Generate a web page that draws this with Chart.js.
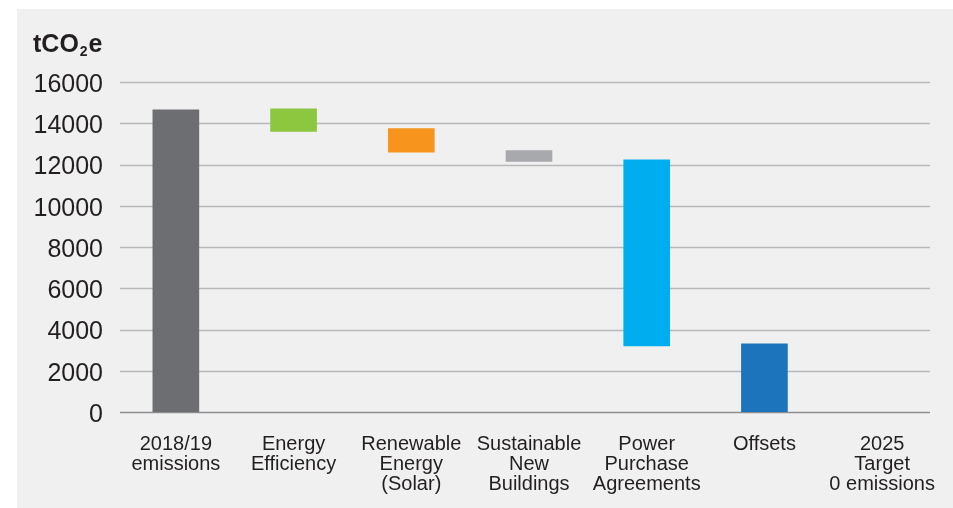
<!DOCTYPE html>
<html>
<head>
<meta charset="utf-8">
<script src="https://cdn.jsdelivr.net/npm/chart.js@4/dist/chart.umd.min.js"></script>
<style>
  html, body { margin: 0; padding: 0; background: #ffffff; }
  #wrap { position: relative; width: 953px; height: 508px; }
  #panel { position: absolute; left: 17px; top: 9px; width: 936px; height: 499px; background: #f0f0f0; }
  #chart { position: absolute; left: 0; top: 0; }
</style>
</head>
<body>
<div id="wrap">
  <div id="panel"></div>
  <canvas id="chart" width="953" height="508"></canvas>
</div>
<script>
// categories (multi-line labels)
const categories = [
  ['2018/19', 'emissions'],
  ['Energy', 'Efficiency'],
  ['Renewable', 'Energy', '(Solar)'],
  ['Sustainable', 'New', 'Buildings'],
  ['Power', 'Purchase', 'Agreements'],
  ['Offsets'],
  ['2025', 'Target', '0 emissions']
];

// floating bar bounds, tCO2e
const barStarts = [0, 13600, 12600, 12150, 3200, 0, null];
const barEnds = [14650, 14700, 13740, 12670, 12230, 3300, null];
const barColors = ['#6d6e71', '#8dc63f', '#f7941d', '#a7a9ac', '#00aeef', '#1c75bc', '#1c75bc'];

const yMin = 0;
const yMax = 16000;
const yStep = 2000;

const textColor = '#231f20';

// horizontal grid lines, a bit shorter than the category band
const gridPlugin = {
  id: 'gridLines',
  beforeDatasetsDraw(chart) {
    const { ctx, chartArea, scales } = chart;
    const y = scales.y;
    ctx.save();
    y.ticks.forEach(t => {
      const py = Math.round(y.getPixelForValue(t.value)) + 0.5;
      ctx.beginPath();
      ctx.strokeStyle = t.value === 0 ? '#8e8e90' : '#b8b8bb';
      ctx.lineWidth = 1.5;
      ctx.moveTo(chartArea.left + 3, py);
      ctx.lineTo(chartArea.right - 11, py);
      ctx.stroke();
    });
    ctx.restore();
  }
};

// axis title with subscript
const unitPlugin = {
  id: 'unitTitle',
  afterDraw(chart) {
    const ctx = chart.ctx;
    const big = 'bold 25px "Liberation Sans", Arial, sans-serif';
    const small = 'bold 14px "Liberation Sans", Arial, sans-serif';
    let x = 33;
    const base = 52;
    ctx.save();
    ctx.fillStyle = textColor;
    ctx.textBaseline = 'alphabetic';
    ctx.textAlign = 'left';
    ctx.font = big;
    ctx.fillText('tCO', x, base);
    x += ctx.measureText('tCO').width + 1;
    ctx.font = small;
    ctx.fillText('2', x, base + 4);
    x += ctx.measureText('2').width + 1;
    ctx.font = big;
    ctx.fillText('e', x, base);
    ctx.restore();
  }
};

const data = {
  labels: categories,
  datasets: [{
    data: barStarts.map((s, i) => (s === null ? null : [s, barEnds[i]])),
    backgroundColor: barColors,
    borderWidth: 0,
    barThickness: 46
  }]
};

new Chart(document.getElementById('chart'), {
  type: 'bar',
  data,
  options: {
    responsive: false,
    animation: false,
    devicePixelRatio: 1,
    layout: { padding: { left: 0, top: 82, right: 12, bottom: 0 } },
    plugins: {
      legend: { display: false },
      tooltip: { enabled: false }
    },
    scales: {
      x: {
        grid: { display: false, drawTicks: false },
        border: { display: false },
        ticks: {
          autoSkip: false,
          maxRotation: 0,
          padding: 22,
          color: textColor,
          font: { family: '"Liberation Sans", Arial, sans-serif', size: 20, lineHeight: 1.0 }
        },
        afterFit(scale) {
          scale.height = 96;
          scale.paddingLeft = 0;
          scale.paddingRight = 0;
        }
      },
      y: {
        min: yMin,
        max: yMax,
        grid: { display: false, drawTicks: false },
        border: { display: false },
        ticks: {
          stepSize: yStep,
          padding: 14,
          labelOffset: 3,
          color: textColor,
          font: { family: '"Liberation Sans", Arial, sans-serif', size: 25 },
          callback: v => String(v)
        },
        afterFit(scale) {
          scale.width = 117;
          scale.paddingTop = 0;
          scale.paddingBottom = 0;
        }
      }
    }
  },
  plugins: [gridPlugin, unitPlugin]
});
</script>
</body>
</html>
